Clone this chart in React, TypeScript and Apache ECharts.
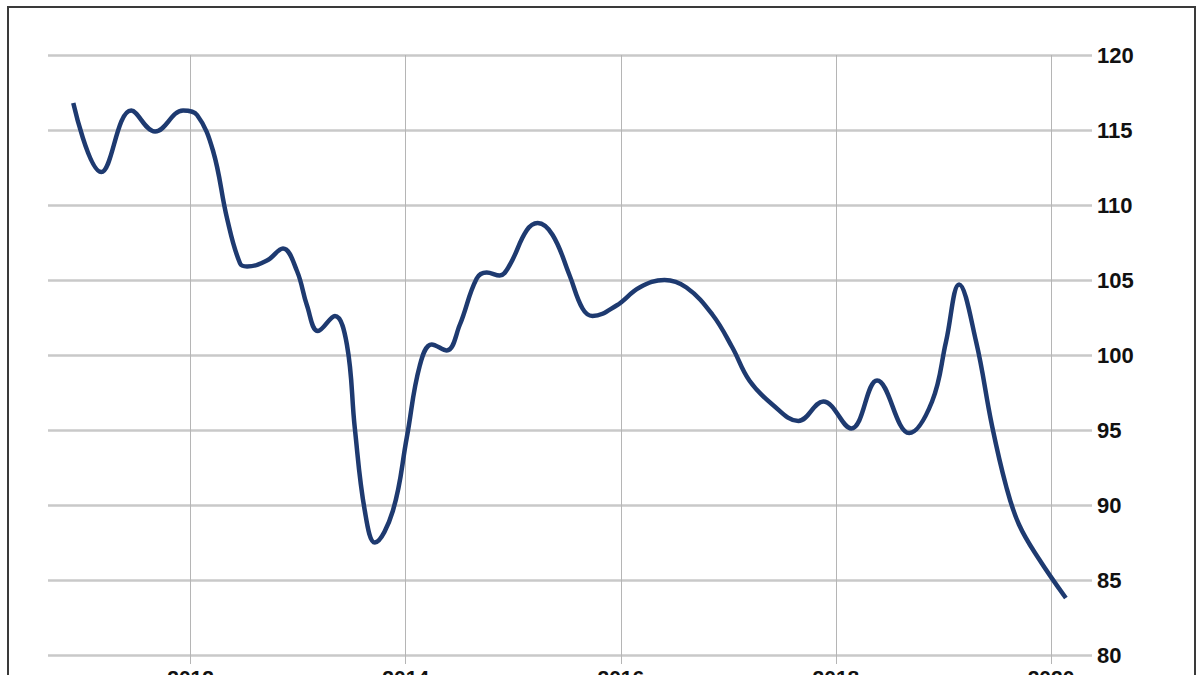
import React, { useEffect, useRef } from "react";
import * as echarts from "echarts";

// position in decimal years
const years = [
	2010.909, 2011.169, 2011.448, 2011.67, 2011.93, 2012.06, 2012.209, 2012.339, 2012.46, 2012.525,
	2012.71, 2012.859, 2012.989, 2013.082, 2013.184, 2013.342, 2013.453, 2013.527, 2013.62, 2013.713,
	2013.88, 2014.01, 2014.131, 2014.242, 2014.382, 2014.502, 2014.66, 2014.753, 2014.874, 2014.967,
	2015.124, 2015.227, 2015.366, 2015.524, 2015.644, 2015.737, 2015.96, 2016.174, 2016.406, 2016.61,
	2016.851, 2017.037, 2017.195, 2017.409, 2017.65, 2017.882, 2018.142, 2018.383, 2018.681, 2018.894,
	2019.024, 2019.145, 2019.303, 2019.451, 2019.581, 2019.702, 2019.888, 2020.138,
];
const values = [
	116.8, 112.2, 116.3, 114.9, 116.3, 116.0, 113.6, 109.1, 106.1, 105.9,
	106.3, 107.1, 105.6, 103.3, 101.6, 102.6, 100.7, 95.1, 89.6, 87.5,
	89.6, 94.5, 99.3, 100.7, 100.3, 102.0, 105.1, 105.5, 105.3, 106.0,
	108.3, 108.8, 108.0, 105.3, 103.1, 102.6, 103.3, 104.5, 105.0, 104.5,
	102.7, 100.5, 98.3, 96.7, 95.6, 96.9, 95.1, 98.3, 94.8, 96.9,
	100.9, 104.7, 100.9, 95.3, 91.3, 88.7, 86.4, 83.8,
];
const yearTicks = [2012, 2014, 2016, 2018, 2020];

const labelFont = '"Liberation Sans Narrow", "Arial Narrow", "Liberation Sans", Arial, sans-serif';

export default function App() {
	const chartRef = useRef<HTMLDivElement>(null);

	useEffect(() => {
		if (!chartRef.current) return;
		const chart = echarts.init(chartRef.current, undefined, { renderer: "svg" });

		chart.setOption({
			animation: false,
			backgroundColor: "#ffffff",
			grid: { left: 48, right: 108, top: 55, bottom: 20, outerBoundsMode: "none" },
			graphic: [
				{
					type: "rect",
					shape: { x: 8, y: 7, width: 1187, height: 700 },
					style: { fill: "none", stroke: "#3a3a3a", lineWidth: 2 },
					silent: true,
				},
			],
			xAxis: {
				type: "value",
				min: 2010.674,
				max: 2020.381,
				axisLine: { show: false },
				splitLine: { show: false },
				axisTick: {
					show: true,
					customValues: yearTicks,
					length: 9,
					lineStyle: { color: "#b5b5b5", width: 1 },
				},
				axisLabel: {
					customValues: yearTicks,
					formatter: (v: number) => String(v),
					margin: 12,
					fontSize: 21,
					fontWeight: "bold",
					fontFamily: labelFont,
					color: "#111111",
				},
			},
			yAxis: {
				type: "value",
				position: "right",
				min: 80,
				max: 120,
				interval: 5,
				axisLine: { show: false },
				axisTick: { show: false },
				axisLabel: {
					margin: 5,
					fontSize: 22,
					fontWeight: "bold",
					fontFamily: labelFont,
					color: "#111111",
				},
				splitLine: { lineStyle: { color: "#c9c9c9", width: 2.5 } },
			},
			series: [
				{
					type: "line",
					data: years.map((y, i) => [y, values[i]]),
					smooth: 0.4,
					showSymbol: false,
					lineStyle: { color: "#1e3a70", width: 4.5 },
					z: 5,
					markLine: {
						silent: true,
						symbol: "none",
						label: { show: false },
						lineStyle: { color: "#b5b5b5", width: 1, type: "solid" },
						data: yearTicks.map((t) => ({ xAxis: t })),
						z: 1,
					},
				},
			],
		});

		return () => {
			chart.dispose();
		};
	}, []);

	return (
		<div
			ref={chartRef}
			style={{ position: "fixed", left: 0, top: 0, width: 1200, height: 675 }}
		/>
	);
}
